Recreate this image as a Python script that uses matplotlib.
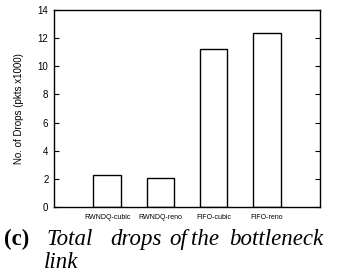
import matplotlib
matplotlib.use("Agg")
import matplotlib.pyplot as plt

categories = ["RWNDQ-cubic", "RWNDQ-reno", "FIFO-cubic", "FIFO-reno"]
drops = [2.27, 2.09, 11.22, 12.39]
yticks = [0, 2, 4, 6, 8, 10, 12, 14]

W, H = 338, 276
fig = plt.figure(figsize=(W / 100, H / 100), dpi=100)
ax = fig.add_axes([54/W, 1 - 207/H, 266/W, 197/H])
x = list(range(1, len(categories) + 1))
ax.bar(x, drops, width=0.52, facecolor="white", edgecolor="black", linewidth=1.0)
ax.set_xlim(0, 5)
ax.set_ylim(0, 14)
ax.set_yticks(yticks)
ax.set_yticklabels([str(t) for t in yticks], fontsize=7, family="Liberation Sans")
ax.set_xticks(x)
ax.set_xticklabels(categories, fontsize=5, family="Liberation Sans")
ax.tick_params(axis="y", direction="in", length=3.6, width=0.8, right=True, pad=4)
ax.tick_params(axis="x", length=0, pad=5)
ax.set_ylabel("No. of Drops (pkts x1000)", fontsize=7, family="Liberation Sans", labelpad=10)
for s in ax.spines.values():
    s.set_linewidth(1.0)

fs = 16.5
y1 = 1 - 245/H
y2 = 1 - 268/H
fig.text(17/W, y1, "(c)", fontsize=fs, family="Liberation Serif", fontweight="bold",
         va="baseline", ha="center")
for word, xc in [("Total", 70), ("drops", 136), ("of", 178), ("the", 205), ("bottleneck", 276)]:
    fig.text(xc/W, y1, word, fontsize=fs, family="Liberation Serif", style="italic",
             va="baseline", ha="center")
fig.text(61/W, y2, "link", fontsize=fs, family="Liberation Serif", style="italic",
         va="baseline", ha="center")

fig.savefig("out.png", dpi=100)
